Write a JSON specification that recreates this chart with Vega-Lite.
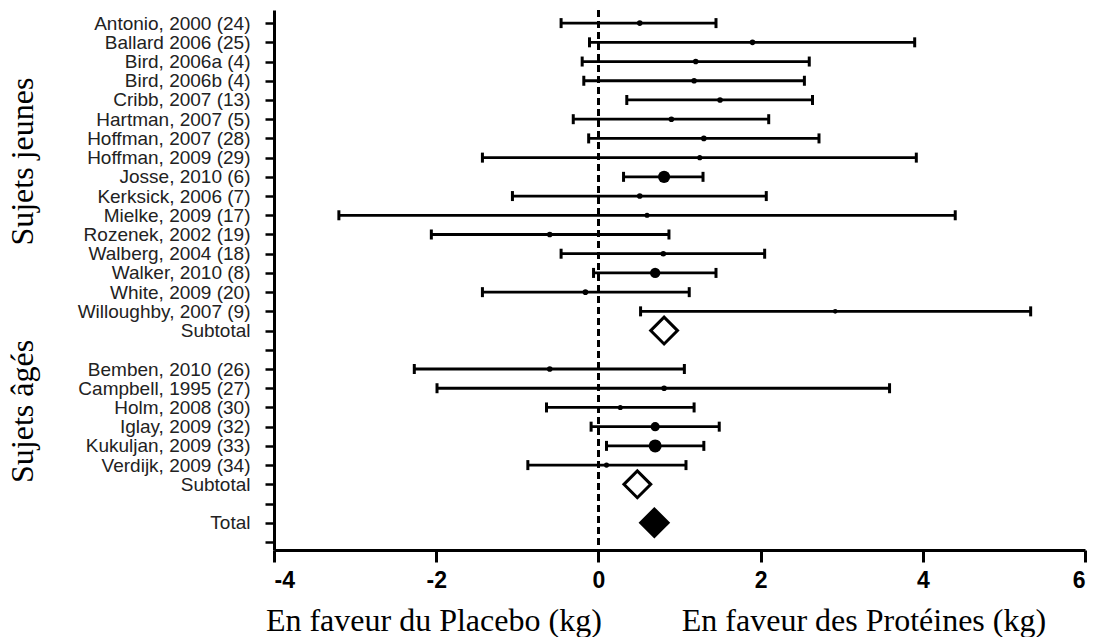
{
  "$schema": "https://vega.github.io/schema/vega-lite/v6.json",
  "autosize": {"type": "none"},
  "padding": {"left": 274, "top": 10, "right": 12, "bottom": 87},
  "width": 811,
  "height": 540,
  "background": "white",
  "config": {"view": {"stroke": null}},
  "data": {
    "values": [
      {"key": "00|Antonio, 2000 (24)", "kind": "study", "est": 0.51, "lo": -0.46, "hi": 1.45, "weight": 3, "grp": ""},
      {"key": "01|Ballard 2006 (25)", "kind": "study", "est": 1.90, "lo": -0.11, "hi": 3.90, "weight": 3, "grp": ""},
      {"key": "02|Bird, 2006a (4)", "kind": "study", "est": 1.20, "lo": -0.20, "hi": 2.60, "weight": 3, "grp": ""},
      {"key": "03|Bird, 2006b (4)", "kind": "study", "est": 1.18, "lo": -0.18, "hi": 2.54, "weight": 3, "grp": ""},
      {"key": "04|Cribb, 2007 (13)", "kind": "study", "est": 1.50, "lo": 0.35, "hi": 2.64, "weight": 3, "grp": ""},
      {"key": "05|Hartman, 2007 (5)", "kind": "study", "est": 0.90, "lo": -0.31, "hi": 2.10, "weight": 3, "grp": ""},
      {"key": "06|Hoffman, 2007 (28)", "kind": "study", "est": 1.30, "lo": -0.12, "hi": 2.72, "weight": 3, "grp": ""},
      {"key": "07|Hoffman, 2009 (29)", "kind": "study", "est": 1.25, "lo": -1.43, "hi": 3.92, "weight": 2.5, "grp": "Sujets jeunes"},
      {"key": "08|Josse, 2010 (6)", "kind": "study", "est": 0.81, "lo": 0.31, "hi": 1.29, "weight": 14, "grp": ""},
      {"key": "09|Kerksick, 2006 (7)", "kind": "study", "est": 0.51, "lo": -1.06, "hi": 2.07, "weight": 3, "grp": ""},
      {"key": "10|Mielke, 2009 (17)", "kind": "study", "est": 0.60, "lo": -3.20, "hi": 4.40, "weight": 2.5, "grp": ""},
      {"key": "11|Rozenek, 2002 (19)", "kind": "study", "est": -0.60, "lo": -2.06, "hi": 0.87, "weight": 3, "grp": ""},
      {"key": "12|Walberg, 2004 (18)", "kind": "study", "est": 0.80, "lo": -0.46, "hi": 2.05, "weight": 3, "grp": ""},
      {"key": "13|Walker, 2010 (8)", "kind": "study", "est": 0.70, "lo": -0.06, "hi": 1.45, "weight": 10, "grp": ""},
      {"key": "14|White, 2009 (20)", "kind": "study", "est": -0.16, "lo": -1.43, "hi": 1.12, "weight": 3, "grp": ""},
      {"key": "15|Willoughby, 2007 (9)", "kind": "study", "est": 2.92, "lo": 0.52, "hi": 5.33, "weight": 2, "grp": ""},
      {"key": "16|Subtotal", "kind": "subtotal", "est": 0.81, "lo": null, "hi": null, "weight": null, "grp": ""},
      {"key": "17|", "kind": "blank", "est": null, "lo": null, "hi": null, "weight": null, "grp": ""},
      {"key": "18|Bemben, 2010 (26)", "kind": "study", "est": -0.60, "lo": -2.27, "hi": 1.06, "weight": 3, "grp": ""},
      {"key": "19|Campbell, 1995 (27)", "kind": "study", "est": 0.81, "lo": -1.99, "hi": 3.59, "weight": 3, "grp": ""},
      {"key": "20|Holm, 2008 (30)", "kind": "study", "est": 0.27, "lo": -0.64, "hi": 1.18, "weight": 2.5, "grp": "Sujets âgés"},
      {"key": "21|Iglay, 2009 (32)", "kind": "study", "est": 0.70, "lo": -0.09, "hi": 1.49, "weight": 8, "grp": ""},
      {"key": "22|Kukuljan, 2009 (33)", "kind": "study", "est": 0.70, "lo": 0.10, "hi": 1.30, "weight": 16, "grp": ""},
      {"key": "23|Verdijk, 2009 (34)", "kind": "study", "est": 0.10, "lo": -0.87, "hi": 1.08, "weight": 2.5, "grp": ""},
      {"key": "24|Subtotal", "kind": "subtotal", "est": 0.48, "lo": null, "hi": null, "weight": null, "grp": ""},
      {"key": "25|", "kind": "blank", "est": null, "lo": null, "hi": null, "weight": null, "grp": ""},
      {"key": "26|Total", "kind": "total", "est": 0.69, "lo": null, "hi": null, "weight": null, "grp": ""},
      {"key": "27| ", "kind": "blank", "est": null, "lo": null, "hi": null, "weight": null, "grp": ""}
    ]
  },
  "layer": [
    {
      "mark": {"type": "text", "font": "Liberation Serif", "fontSize": 32, "angle": 270, "align": "center", "baseline": "middle", "color": "black", "dx": -4},
      "encoding": {
        "y": {
          "field": "key", "type": "ordinal",
          "scale": {"type": "point", "padding": 0.55, "align": 0.62},
          "axis": {
            "title": null,
            "labelExpr": "split(datum.value, '|')[1]",
            "labelFont": "Liberation Sans", "labelFontSize": 19, "labelColor": "#222",
            "labelPadding": 15, "labelLimit": 0,
            "tickSize": 9, "tickWidth": 2.5, "tickColor": "black",
            "domainColor": "black", "domainWidth": 3
          }
        },
        "x": {
          "datum": -7.1, "type": "quantitative",
          "scale": {"domain": [-4, 6], "nice": false, "zero": false},
          "axis": {
            "values": [-4, -2, 0, 2, 4, 6],
            "labelExpr": "'' + datum.value",
            "labelFont": "Liberation Sans", "labelFontWeight": "bold", "labelFontSize": 23, "labelColor": "black",
            "labelPadding": 7, "tickSize": 12, "tickWidth": 3, "tickColor": "black",
            "domainColor": "black", "domainWidth": 3, "grid": false,
            "title": "En faveur du Placebo (kg)\u00a0\u00a0\u00a0\u00a0\u00a0\u00a0\u00a0\u00a0\u00a0\u00a0En faveur des Protéines (kg)\u00a0\u00a0\u00a0\u00a0\u00a0\u00a0\u200b",
            "titleFont": "Liberation Serif", "titleFontSize": 32, "titleFontWeight": "normal", "titleColor": "black", "titlePadding": 13
          }
        },
        "text": {"field": "grp"}
      }
    },
    {
      "mark": {"type": "rule", "strokeDash": [7, 4], "strokeWidth": 2.5, "color": "black"},
      "encoding": {"x": {"datum": 0, "type": "quantitative"}}
    },
    {
      "transform": [{"filter": "datum.kind === 'study'"}],
      "mark": {"type": "rule", "strokeWidth": 2.8, "color": "black"},
      "encoding": {
        "y": {"field": "key", "type": "ordinal"},
        "x": {"field": "lo", "type": "quantitative"},
        "x2": {"field": "hi"}
      }
    },
    {
      "transform": [{"filter": "datum.kind === 'study'"}],
      "mark": {"type": "tick", "thickness": 3, "size": 10, "color": "black", "opacity": 1},
      "encoding": {
        "y": {"field": "key", "type": "ordinal"},
        "x": {"field": "lo", "type": "quantitative"}
      }
    },
    {
      "transform": [{"filter": "datum.kind === 'study'"}],
      "mark": {"type": "tick", "thickness": 3, "size": 10, "color": "black", "opacity": 1},
      "encoding": {
        "y": {"field": "key", "type": "ordinal"},
        "x": {"field": "hi", "type": "quantitative"}
      }
    },
    {
      "transform": [{"filter": "datum.kind === 'study'"}],
      "mark": {"type": "point", "filled": true, "shape": "circle", "color": "black", "opacity": 1},
      "encoding": {
        "y": {"field": "key", "type": "ordinal"},
        "x": {"field": "est", "type": "quantitative"},
        "size": {"field": "weight", "type": "quantitative", "scale": {"domain": [0, 16], "range": [0, 169]}, "legend": null}
      }
    },
    {
      "transform": [{"filter": "datum.kind === 'subtotal'"}],
      "mark": {"type": "point", "filled": false, "shape": "diamond", "size": 720, "stroke": "black", "strokeWidth": 3, "opacity": 1},
      "encoding": {
        "y": {"field": "key", "type": "ordinal"},
        "x": {"field": "est", "type": "quantitative"}
      }
    },
    {
      "transform": [{"filter": "datum.kind === 'total'"}],
      "mark": {"type": "point", "filled": true, "shape": "diamond", "size": 1000, "color": "black", "opacity": 1},
      "encoding": {
        "y": {"field": "key", "type": "ordinal"},
        "x": {"field": "est", "type": "quantitative"}
      }
    }
  ]
}
